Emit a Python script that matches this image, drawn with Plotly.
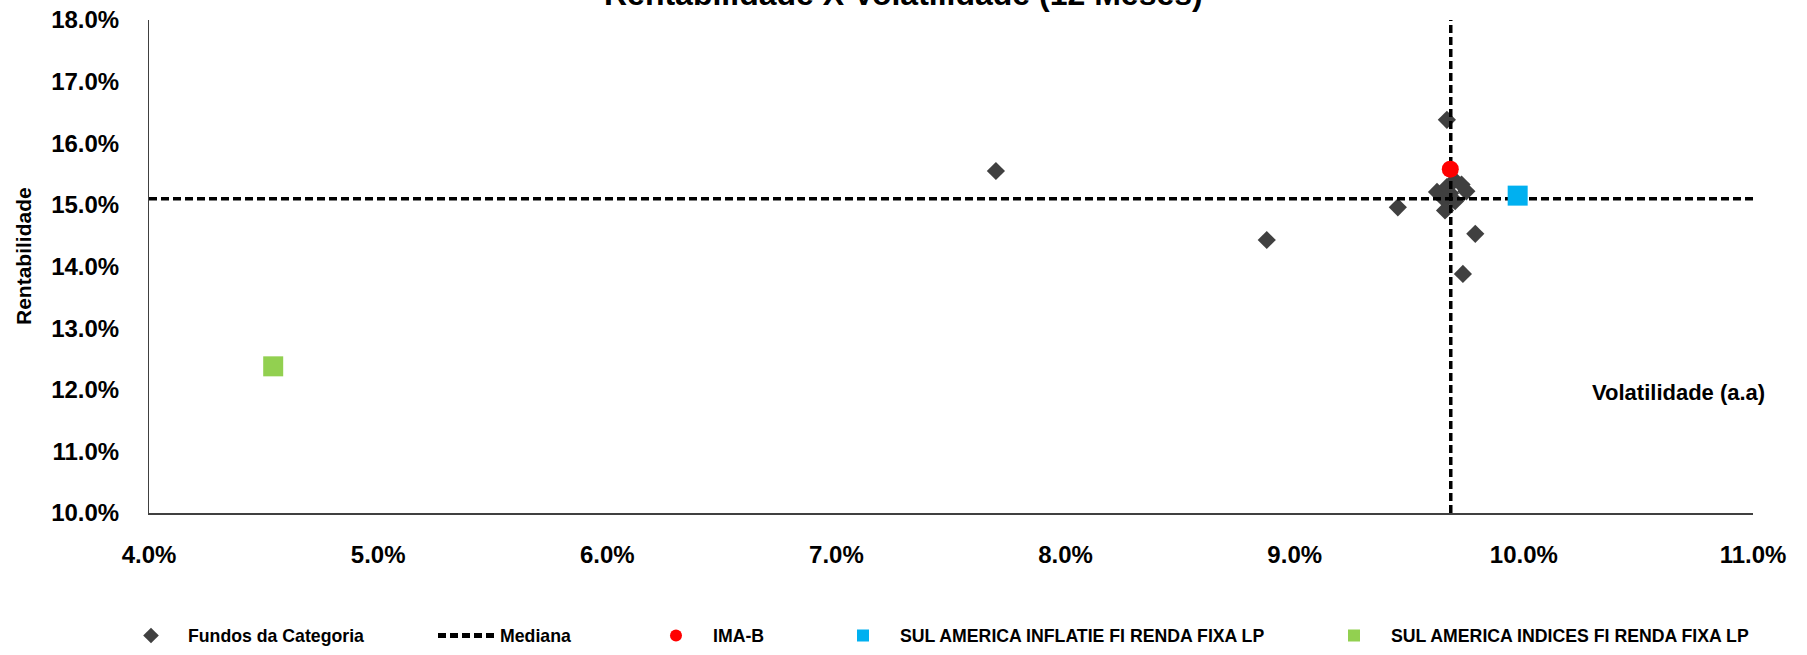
import plotly.graph_objects as go

# volatilidade (a.a, %) x rentabilidade (12 meses, %)
fundos_vol = [9.664, 9.621, 9.664, 9.698, 9.728, 9.749, 9.678, 9.656, 9.700, 9.656,
              9.450, 9.788, 9.734, 7.696, 8.878]
fundos_ret = [16.38, 15.21, 15.29, 15.40, 15.33, 15.22, 15.19, 15.08, 15.06, 14.91,
              14.96, 14.53, 13.88, 15.55, 14.43]

mediana_vol = [4.0, 11.0, None, 9.681, 9.681]
mediana_ret = [15.10, 15.10, None, 10.0, 18.0]

imab_vol = [9.679]
imab_ret = [15.58]

inflatie_vol = [9.973]
inflatie_ret = [15.15]

indices_vol = [4.542]
indices_ret = [12.38]

x_ticks = [4, 5, 6, 7, 8, 9, 10, 11]
y_ticks = [10, 11, 12, 13, 14, 15, 16, 17, 18]
x_labels = [f"{v:.1f}%" for v in x_ticks]
y_labels = [f"{v:.1f}%" for v in y_ticks]

FONT = "Liberation Sans, Arial, sans-serif"
W, H = 1807, 655
L, R, T, B = 149, 54, 20, 142

fig = go.Figure()

fig.add_trace(go.Scatter(x=fundos_vol, y=fundos_ret, mode="markers", name="Fundos da Categoria",
                         marker=dict(symbol="diamond", size=14, color="#404040"), legend="legend"))
fig.add_trace(go.Scatter(x=mediana_vol, y=mediana_ret, mode="lines", name="Mediana",
                         line=dict(color="black", width=3.5, dash="8px,4px"), legend="legend2"))
fig.add_trace(go.Scatter(x=imab_vol, y=imab_ret, mode="markers", name="IMA-B",
                         marker=dict(symbol="circle", size=17, color="#ff0000"), legend="legend3"))
fig.add_trace(go.Scatter(x=inflatie_vol, y=inflatie_ret, mode="markers",
                         name="SUL AMERICA INFLATIE FI RENDA FIXA LP",
                         marker=dict(symbol="square", size=20, color="#00b0f0"), legend="legend4"))
fig.add_trace(go.Scatter(x=indices_vol, y=indices_ret, mode="markers",
                         name="SUL AMERICA INDICES FI RENDA FIXA LP",
                         marker=dict(symbol="square", size=20, color="#92d050"), legend="legend5"))


def px_x(p):
    return (p - L) / (W - L - R)


def px_y(p):
    return (H - B - p) / (H - T - B)


leg_font = dict(family=FONT, size=17.7, color="black", weight="bold")
# left edge (px) and symbol width of each legend box
legend_pos = {"legend": (114, 64), "legend2": (433, 57), "legend3": (639, 64),
              "legend4": (826, 64), "legend5": (1317, 64)}
legends = {}
for k, (left, iw) in legend_pos.items():
    legends[k] = dict(x=px_x(left), xanchor="left", y=px_y(636), yanchor="middle",
                      orientation="h", font=leg_font, bgcolor="rgba(0,0,0,0)",
                      itemwidth=iw, itemsizing="constant")

fig.update_layout(
    width=W, height=H,
    margin=dict(l=L, r=R, t=T, b=B, autoexpand=False),
    plot_bgcolor="white", paper_bgcolor="white",
    showlegend=True,
    **legends,
    xaxis=dict(range=[4, 11], tickvals=x_ticks, ticktext=x_labels,
               showgrid=False, zeroline=False, showline=True, linecolor="#404040", linewidth=2,
               ticks="", ticklabelstandoff=19, automargin=False,
               tickfont=dict(family=FONT, size=24, color="black", weight="bold")),
    yaxis=dict(range=[10, 18], tickvals=y_ticks, ticktext=y_labels,
               showgrid=False, zeroline=False, showline=True, linecolor="#404040", linewidth=1,
               ticks="", ticklabelstandoff=24, automargin=False,
               tickfont=dict(family=FONT, size=24, color="black", weight="bold")),
    annotations=[
        dict(text="Rentabilidade X Volatilidade (12 Meses)", xref="paper", yref="paper",
             x=px_x(903), y=1, xanchor="center", yanchor="bottom", yshift=6, showarrow=False,
             font=dict(family=FONT, size=32, color="black", weight="bold")),
        dict(text="Rentabilidade", xref="paper", yref="paper", x=px_x(23), y=px_y(256),
             xanchor="center", yanchor="middle", textangle=-90, showarrow=False,
             font=dict(family=FONT, size=21, color="black", weight="bold")),
        dict(text="Volatilidade (a.a)", xref="paper", yref="paper", x=px_x(1678), y=px_y(392),
             xanchor="center", yanchor="middle", showarrow=False,
             font=dict(family=FONT, size=22, color="black", weight="bold")),
    ],
)

# page body has a default 8px margin; drop it so the figure fills the window
fig.write_html("out.html", config={"displayModeBar": False},
               post_script="document.body.style.margin='0px';")
